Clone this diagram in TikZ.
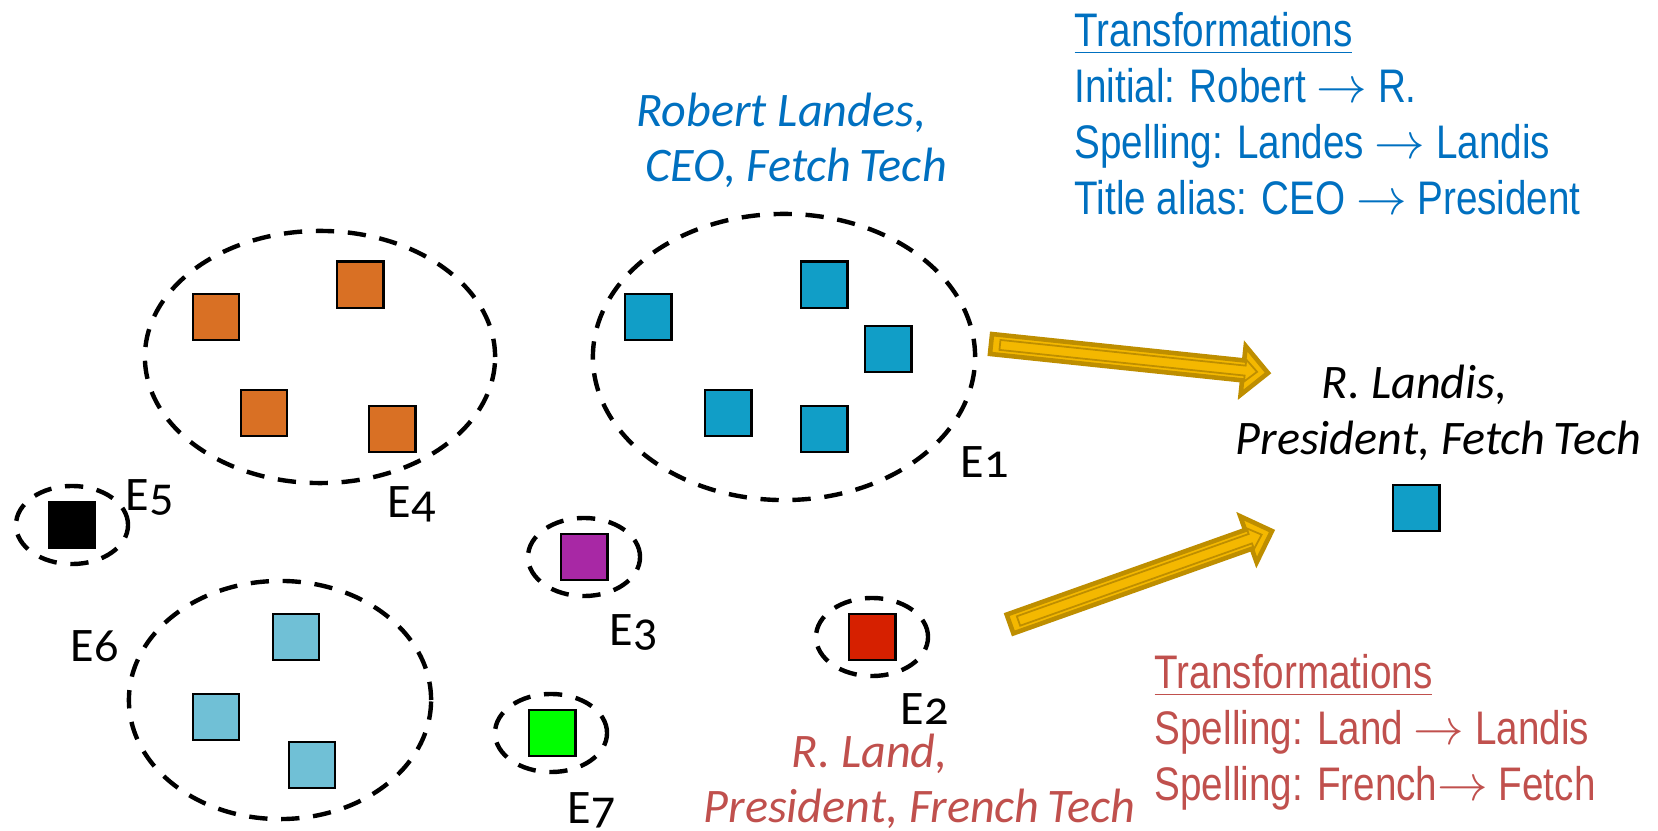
\documentclass[tikz,border=0pt]{standalone}
\usepackage{fontspec}
\setmainfont{Carlito}
\newfontfamily\labelfont{Carlito}[Numbers=OldStyle]
\newfontfamily\trfont{Liberation Sans}[FakeStretch=0.82]
\usetikzlibrary{calc,%
		shapes.geometric}

\definecolor{sqorange}{RGB}{217,112,36}
\definecolor{sqblue}{RGB}{17,158,199}
\definecolor{sqlight}{RGB}{112,192,214}
\definecolor{sqpurple}{RGB}{168,40,165}
\definecolor{sqgreen}{RGB}{0,255,0}
\definecolor{sqred}{RGB}{214,32,0}
\definecolor{txtblue}{RGB}{0,112,192}
\definecolor{txtred}{RGB}{192,80,77}
\definecolor{goldline}{RGB}{190,142,0}
\definecolor{goldfill}{RGB}{244,184,0}

\tikzset{
	rec/.style={draw,line width=0.7pt,minimum size=0.465cm,inner sep=0pt},
	cluster/.style={ellipse,draw,line width=1.25pt,dash pattern=on 5.2pt off 3.9pt,inner sep=0pt},
	elabel/.style={anchor=base west,inner sep=0pt,font=\labelfont\fontsize{13.7}{16}\selectfont},
	record/.style={anchor=base west,inner sep=0pt,font=\itshape\fontsize{13.7}{16}\selectfont},
	transf/.style={anchor=north west,inner sep=0pt,align=left,font=\trfont\fontsize{13.4}{15.85}\selectfont},
	goldout/.style={fill=goldfill,draw=goldline,line width=1.3pt},
	goldin/.style={draw=goldline,line width=0.5pt}
}

%freccia a nastro: coda #1, punta #2
\newcommand{\goldarrow}[2]{%
	\coordinate (ga-n) at ($(#2)!0.25cm!(#1)$);
	\draw[goldout] ($(#1)!0.10cm!90:(#2)$) -- ($(ga-n)!0.10cm!-90:(#1)$) -- ($(ga-n)!0.245cm!-90:(#1)$)
		-- (#2) -- ($(ga-n)!0.245cm!90:(#1)$) -- ($(ga-n)!0.10cm!90:(#1)$) -- ($(#1)!0.10cm!-90:(#2)$) -- cycle;
	\coordinate (ga-a) at ($(#1)!0.09cm!(#2)$);
	\coordinate (ga-b) at ($(#2)!0.11cm!(#1)$);
	\coordinate (ga-m) at ($(ga-b)!0.12cm!(#1)$);
	\draw[goldin] ($(ga-a)!0.05cm!90:(ga-b)$) -- ($(ga-m)!0.05cm!-90:(ga-a)$) -- ($(ga-m)!0.11cm!-90:(ga-a)$)
		-- (ga-b) -- ($(ga-m)!0.11cm!90:(ga-a)$) -- ($(ga-m)!0.05cm!90:(ga-a)$) -- ($(ga-a)!0.05cm!-90:(ga-b)$) -- cycle;
}

\begin{document}
\begin{tikzpicture}[x=0.01cm,y=-0.01cm]
\useasboundingbox (0,0) rectangle (1658,831);

%cluster E4
\node[cluster,minimum width=3.50cm,minimum height=2.52cm] (c4) at (320,357) {};
\node[rec,fill=sqorange] (o1) at (216,317) {};
\node[rec,fill=sqorange] (o2) at (360,285) {};
\node[rec,fill=sqorange] (o3) at (264,413) {};
\node[rec,fill=sqorange] (o4) at (392,429) {};
\node[elabel] (l4) at (387,518) {E4};

%cluster E1
\node[cluster,minimum width=3.82cm,minimum height=2.86cm] (c1) at (784,357) {};
\node[rec,fill=sqblue] (b1) at (648,317) {};
\node[rec,fill=sqblue] (b2) at (824,285) {};
\node[rec,fill=sqblue] (b3) at (888,349) {};
\node[rec,fill=sqblue] (b4) at (728,413) {};
\node[rec,fill=sqblue] (b5) at (824,429) {};
\node[elabel] (l1) at (960,478) {E1};

%cluster E6
\node[cluster,minimum width=3.02cm,minimum height=2.38cm] (c6) at (280,700) {};
\node[rec,fill=sqlight] (s1) at (296,637) {};
\node[rec,fill=sqlight] (s2) at (216,717) {};
\node[rec,fill=sqlight] (s3) at (312,765) {};
\node[elabel] (l6) at (70,661) {E6};

%cluster singoli
\node[cluster,minimum width=1.12cm,minimum height=0.78cm] (c5) at (72,525) {};
\node[rec,fill=black] (k5) at (72,525) {};
\node[elabel] (l5) at (125,511) {E5};

\node[cluster,minimum width=1.12cm,minimum height=0.78cm] (c3) at (584,557) {};
\node[rec,fill=sqpurple] (p3) at (584,557) {};
\node[elabel] (l3) at (609,645) {E3};

\node[cluster,minimum width=1.12cm,minimum height=0.78cm] (c2) at (872,637) {};
\node[rec,fill=sqred] (r2) at (872,637) {};
\node[elabel] (l2) at (900,724) {E2};

\node[cluster,minimum width=1.12cm,minimum height=0.78cm] (c7) at (551,733) {};
\node[rec,fill=sqgreen] (g7) at (552,733) {};
\node[elabel] (l7) at (567,823) {E7};

%record
\node[record,txtblue] (rob1) at (636,127) {Robert Landes,};
\node[record,txtblue] (rob2) at (645,182) {CEO, Fetch\,Tech};
\node[record] (lnd1) at (1321,399) {R. Landis,};
\node[record] (lnd2) at (1235,455) {President, Fetch\,Tech};
\node[record,txtred] (lan1) at (791,767) {R. Land,};
\node[record,txtred] (lan2) at (703,822) {President, French\,Tech};
\node[rec,fill=sqblue] (res) at (1416,508) {};

%trasformazioni
\node[transf,txtblue] (tr1) at (1074,12) {\underline{Transformations}\\
	Initial: Robert $\rightarrow$ R.\\
	Spelling: Landes $\rightarrow$ Landis\\
	Title alias: CEO $\rightarrow$ President};
\node[transf,txtred] (tr2) at (1154,654) {\underline{Transformations}\\
	Spelling: Land $\rightarrow$ Landis\\
	Spelling: French$\rightarrow$ Fetch};

%frecce
\coordinate (t1) at (991,344);
\coordinate (h1) at (1268,373);
\goldarrow{t1}{h1}
\coordinate (t2) at (1010,624);
\coordinate (h2) at (1272,531);
\goldarrow{t2}{h2}
\end{tikzpicture}
\end{document}
